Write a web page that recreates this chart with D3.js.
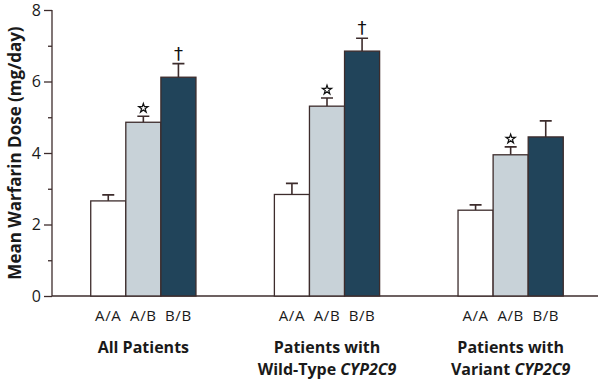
<!DOCTYPE html>
<html>
<head>
<meta charset="utf-8">
<script src="https://cdn.jsdelivr.net/npm/d3@7"></script>
<style>
  body { margin: 0; background: #fff; }
  text { font-family: "Open Sans", "Noto Sans", sans-serif; fill: #1a1a1a; }
</style>
</head>
<body>
<svg id="chart" width="600" height="382"></svg>
<script>
const groups = ["All Patients", "Wild-Type", "Variant"];
const genotypes = ["A/A", "A/B", "B/B"];
const means = [
  [2.66, 4.86, 6.12],
  [2.84, 5.31, 6.85],
  [2.40, 3.95, 4.45]
];
const errors = [
  [0.17, 0.17, 0.38],
  [0.31, 0.23, 0.36],
  [0.15, 0.22, 0.45]
];
// "star" = significant vs A/A, "dagger" = significant vs A/B
const marks = [
  ["", "star", "dagger"],
  ["", "star", "dagger"],
  ["", "star", ""]
];
const yTicks = [0, 2, 4, 6, 8];
const yMinorTicks = [1, 3, 5, 7];

const svg = d3.select("#chart");
const axisColor = "#3d2c2c";
const fills = ["#ffffff", "#c8d2d8", "#21445a"];

const yScale = d3.scaleLinear().domain([0, 8]).range([296, 10]);
const xGroup = d3.scaleBand().domain(groups).range([54, 600]).paddingInner(0.427).paddingOuter(0.2);
const xBar = d3.scaleBand().domain(genotypes).range([0, xGroup.bandwidth()]);

// y axis
const yAxis = svg.append("g")
  .attr("transform", "translate(52,0)")
  .call(d3.axisLeft(yScale).tickValues(yTicks).tickSize(8).tickPadding(3).tickFormat(d3.format("d")));
yAxis.selectAll("path, line").attr("stroke", axisColor).attr("stroke-width", 1.3);
yAxis.select(".domain").attr("d", `M0,${yScale(8)}V${yScale(0)}`);
yAxis.selectAll("text").attr("font-size", 16).attr("fill", "#1a1a1a").style("font-family", '"Open Sans", sans-serif');

svg.append("g")
  .attr("transform", "translate(52,0)")
  .call(d3.axisLeft(yScale).tickValues(yMinorTicks).tickSize(4).tickFormat(""))
  .call(g => g.select(".domain").remove())
  .selectAll("line").attr("stroke", axisColor).attr("stroke-width", 1.3);

// baseline
svg.append("line")
  .attr("x1", 52).attr("x2", 598)
  .attr("y1", yScale(0)).attr("y2", yScale(0))
  .attr("stroke", axisColor).attr("stroke-width", 1.3);

svg.append("text")
  .attr("transform", `translate(21, ${yScale(4)}) rotate(-90)`)
  .attr("text-anchor", "middle")
  .attr("font-size", 17)
  .attr("font-weight", "bold")
  .text("Mean Warfarin Dose (mg/day)");

const star = d3.symbol().type(d3.symbolStar).size(26);

// bars
groups.forEach((grp, gi) => {
  const g = svg.append("g").attr("transform", `translate(${xGroup(grp)},0)`);
  const rows = genotypes.map((gt, i) => ({ gt, i, v: means[gi][i], e: errors[gi][i], m: marks[gi][i] }));
  const cx = d => xBar(d.gt) + xBar.bandwidth() / 2;

  g.selectAll(".err")
    .data(rows)
    .join("path")
    .attr("d", d => `M${cx(d)},${yScale(d.v)}V${yScale(d.v + d.e)}M${cx(d) - 6},${yScale(d.v + d.e)}H${cx(d) + 6}`)
    .attr("stroke", axisColor)
    .attr("stroke-width", 1.6)
    .attr("fill", "none");

  g.selectAll("rect")
    .data(rows)
    .join("rect")
    .attr("x", d => xBar(d.gt))
    .attr("y", d => yScale(d.v))
    .attr("width", xBar.bandwidth())
    .attr("height", d => yScale(0) - yScale(d.v))
    .attr("fill", d => fills[d.i])
    .attr("stroke", axisColor)
    .attr("stroke-width", 1.3);

  g.selectAll(".star")
    .data(rows.filter(d => d.m === "star"))
    .join("path")
    .attr("transform", d => `translate(${cx(d)},${yScale(d.v + d.e) - 8})`)
    .attr("d", star)
    .attr("fill", "#fff")
    .attr("stroke", "#111")
    .attr("stroke-width", 1.2);

  g.selectAll(".dagger")
    .data(rows.filter(d => d.m === "dagger"))
    .join("text")
    .attr("x", cx)
    .attr("y", d => yScale(d.v + d.e) - 4)
    .attr("text-anchor", "middle")
    .attr("font-size", 18)
    .style("font-family", '"DejaVu Sans", sans-serif')
    .style("fill", "#111")
    .text("†");

  g.selectAll(".gt")
    .data(rows)
    .join("text")
    .attr("x", cx)
    .attr("y", 321)
    .attr("text-anchor", "middle")
    .attr("font-size", 15)
    .attr("letter-spacing", 0.6)
    .text(d => d.gt);
});

// group labels
function groupLabel(grp, lines) {
  const cx = xGroup(grp) + xGroup.bandwidth() / 2;
  const t = svg.append("text")
    .attr("x", cx)
    .attr("y", 353)
    .attr("text-anchor", "middle")
    .attr("font-size", 16)
    .attr("font-weight", "bold");
  lines.forEach((parts, li) => {
    parts.forEach((p, pi) => {
      const s = t.append("tspan").text(p.t);
      if (pi === 0) s.attr("x", cx).attr("dy", li === 0 ? 0 : 22);
      if (p.i) s.attr("font-style", "italic");
    });
  });
}
groupLabel("All Patients", [[{ t: "All Patients" }]]);
groupLabel("Wild-Type", [[{ t: "Patients with" }], [{ t: "Wild-Type " }, { t: "CYP2C9", i: true }]]);
groupLabel("Variant", [[{ t: "Patients with" }], [{ t: "Variant " }, { t: "CYP2C9", i: true }]]);
</script>
</body>
</html>
